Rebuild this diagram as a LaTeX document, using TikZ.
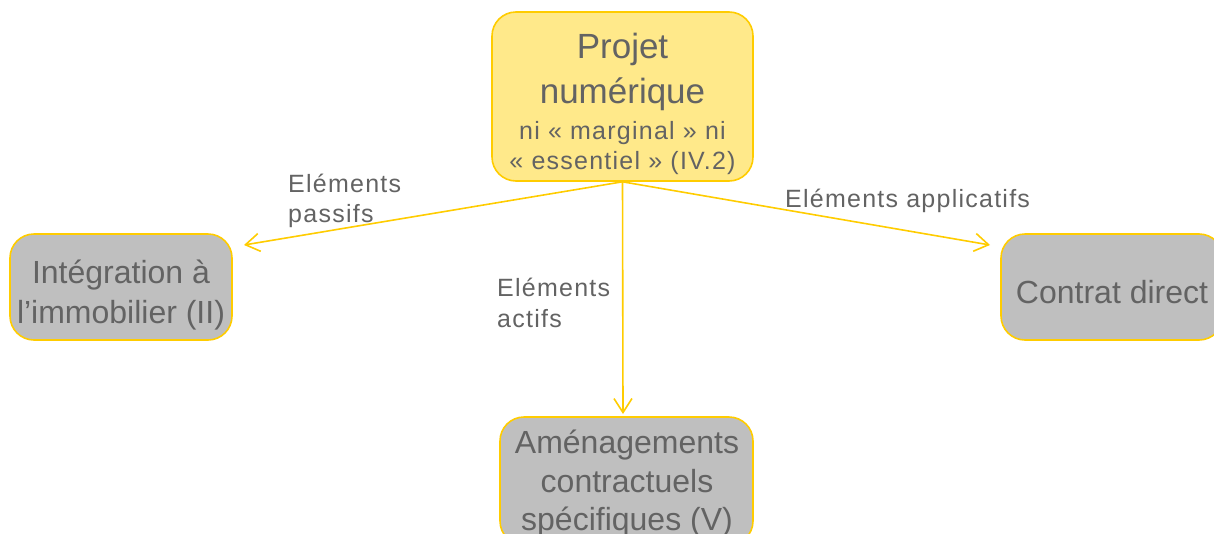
\documentclass[tikz,border=0pt]{standalone}
\usepackage{fontspec}
\setmainfont{Liberation Sans}
\newfontfamily\lblfont[LetterSpace=5]{Liberation Sans}
\usetikzlibrary{arrows.meta}
\definecolor{txt}{HTML}{636363}
\definecolor{gold}{HTML}{FFCC00}
\definecolor{lightyel}{HTML}{FFE98A}
\definecolor{boxgray}{HTML}{BFBFBF}
\tikzset{
  box/.style={draw=gold, line width=1.6pt, rounded corners=24pt, inner sep=0pt},
  bigtxt/.style={text=txt, anchor=base, inner sep=0pt, font=\fontsize{32}{38}\selectfont},
  toptxt/.style={text=txt, anchor=base, inner sep=0pt, font=\fontsize{35}{42}\selectfont},
  smalltxt/.style={text=txt, anchor=base, inner sep=0pt, font=\lblfont\fontsize{25}{30}\selectfont},
  lbl/.style={text=txt, anchor=base west, inner sep=0pt, font=\lblfont\fontsize{25}{30}\selectfont},
  conn/.style={draw=gold, line width=1.6pt, -{Straight Barb[length=14pt,width=18pt,line width=1.6pt]}}
}
\begin{document}
\begin{tikzpicture}[x=1pt,y=-1pt]
\useasboundingbox (0,0) rectangle (1214,533);
% boxes
\node[box, fill=lightyel, minimum width=261pt, minimum height=169pt] (top) at (622.5,96.5) {};
\node[box, fill=boxgray, minimum width=222pt, minimum height=106pt] (left) at (121,287) {};
\node[box, fill=boxgray, minimum width=222pt, minimum height=106pt] (right) at (1112,287) {};
\node[box, fill=boxgray, minimum width=253pt, minimum height=128pt] (bottom) at (626.5,481) {};
% texts
\node[toptxt] (t1) at (622.5,58) {Projet};
\node[toptxt] (t2) at (622.5,103) {numérique};
\node[smalltxt] (t3) at (622.5,139) {ni « marginal » ni};
\node[smalltxt] (t4) at (622.5,169) {« essentiel » (IV.2)};
\node[bigtxt] (l1) at (121,283) {Intégration à};
\node[bigtxt] (l2) at (121,323) {l’immobilier (II)};
\node[bigtxt] (r1) at (1112,303) {Contrat direct};
\node[bigtxt] (b1) at (627,453) {Aménagements};
\node[bigtxt] (b2) at (627,492) {contractuels};
\node[bigtxt] (b3) at (627,530) {spécifiques (V)};
% connectors
\coordinate (lend) at (244,245);
\coordinate (rend) at (990,245);
\coordinate (bend) at (623,414);
\draw[conn] (top.south) -- (lend);
\draw[conn] (top.south) -- (rend);
\draw[conn] (top.south) -- (bend);
% labels
\node[lbl] (p1) at (288,192) {Eléments};
\node[lbl] (p2) at (288,222) {passifs};
\node[lbl] (a1) at (497,296) {Eléments};
\node[lbl] (a2) at (497,327) {actifs};
\node[lbl] (ap) at (785,207) {Eléments applicatifs};
\end{tikzpicture}
\end{document}
